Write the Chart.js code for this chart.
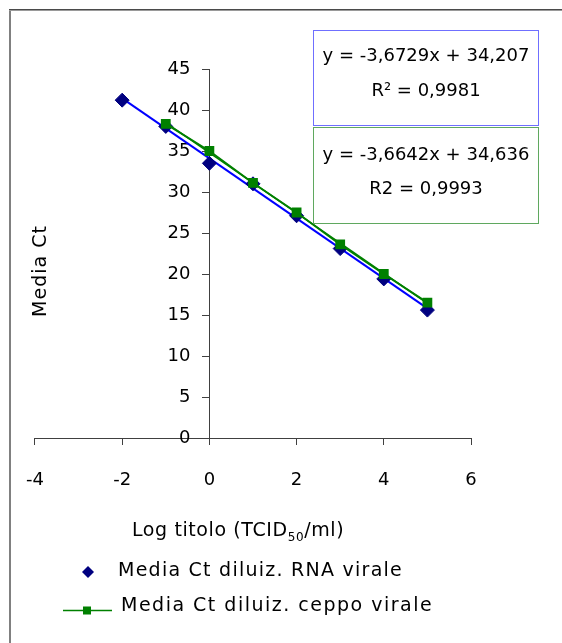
<!DOCTYPE html>
<html><head><meta charset="utf-8">
<script src="https://cdn.jsdelivr.net/npm/chart.js@4.4.1/dist/chart.umd.min.js"></script>
<style>html,body{margin:0;padding:0;background:#fff;} #wrap{width:562px;height:643px;position:relative;}</style>
</head><body><div id="wrap"><canvas id="c" width="562" height="643"></canvas></div>
<script>
// ---- data ----
const logTitreRNA = [-2, -1, 0, 1, 2, 3, 4, 5];
const ctRNA = [41.2, 38.0, 33.5, 31.0, 27.1, 23.1, 19.4, 15.6];
const logTitreCeppo = [-1, 0, 1, 2, 3, 4, 5];
const ctCeppo = [38.3, 35.0, 31.1, 27.5, 23.6, 20.0, 16.5];
const seriesNames = ['Media Ct diluiz. RNA virale', 'Media Ct diluiz. ceppo virale'];
const eqRNA = ['y = -3,6729x + 34,207', 'R² = 0,9981'];
const eqCeppo = ['y = -3,6642x + 34,636', 'R2 = 0,9993'];
const xTicks = [-4, -2, 0, 2, 4, 6];
const yTicks = [0, 5, 10, 15, 20, 25, 30, 35, 40, 45];
const xTitle = ['Log titolo (TCID', '50', '/ml)'];
const yTitle = 'Media Ct';

// least-squares trendline from the data
function trend(xs, ys) {
  const n = xs.length;
  const mx = xs.reduce((a, b) => a + b, 0) / n;
  const my = ys.reduce((a, b) => a + b, 0) / n;
  let sxy = 0, sxx = 0;
  for (let i = 0; i < n; i++) { sxy += (xs[i] - mx) * (ys[i] - my); sxx += (xs[i] - mx) ** 2; }
  const m = sxy / sxx, b = my - m * mx;
  const x0 = Math.min(...xs), x1 = Math.max(...xs);
  return [{x: x0, y: m * x0 + b}, {x: x1, y: m * x1 + b}];
}
const pts = (xs, ys) => xs.map((x, i) => ({x, y: ys[i]}));

const FONT = 'DejaVu Sans';
const NAVY = '#000080', BLUE = '#0000ff', GREEN = '#008000';
const Y_LABEL_GAP = 19;

const overlay = {
  id: 'overlay',
  beforeDraw(chart) {
    // y axis sits at x = 0: move its labels left of the tick marks
    const ys = chart.scales.y;
    const items = ys.getLabelItems(chart.chartArea);
    if (!items._shifted) {
      items.forEach(it => { it.options.translation[0] -= Y_LABEL_GAP; });
      items._shifted = true;
    }
  },
  afterDraw(chart) {
    const ctx = chart.ctx;
    ctx.save();
    // outer frame
    ctx.fillStyle = '#808080';
    ctx.fillRect(9, 9, 2, 643);
    ctx.fillStyle = '#4a4a4a';
    ctx.fillRect(9, 9, 562, 1);
    ctx.fillStyle = '#9a9a9a';
    ctx.fillRect(9, 10, 562, 1);
    // equation boxes
    ctx.lineWidth = 1;
    ctx.strokeStyle = '#6f6fff';
    ctx.strokeRect(313.5, 30.5, 225, 95);
    ctx.strokeStyle = '#5fa85f';
    ctx.strokeRect(313.5, 127.5, 225, 96);
    ctx.fillStyle = '#000';
    ctx.textAlign = 'center';
    ctx.textBaseline = 'middle';
    ctx.font = '18px "' + FONT + '"';
    ctx.fillText(eqRNA[0], 426, 56);
    ctx.fillText(eqRNA[1], 426, 91);
    ctx.fillText(eqCeppo[0], 426, 155);
    ctx.fillText(eqCeppo[1], 426, 189);
    // y title
    ctx.save();
    ctx.translate(41, 271);
    ctx.rotate(-Math.PI / 2);
    ctx.font = '19px "' + FONT + '"';
    ctx.letterSpacing = '1px';
    ctx.fillText(yTitle, 0, 0);
    ctx.restore();
    // x title with subscript
    ctx.textAlign = 'left';
    ctx.textBaseline = 'alphabetic';
    ctx.letterSpacing = '0.6px';
    let x = 132;
    const base = 536;
    ctx.font = '19px "' + FONT + '"';
    ctx.fillText(xTitle[0], x, base); x += ctx.measureText(xTitle[0]).width;
    ctx.font = '12px "' + FONT + '"';
    ctx.fillText(xTitle[1], x, base + 5); x += ctx.measureText(xTitle[1]).width;
    ctx.font = '19px "' + FONT + '"';
    ctx.fillText(xTitle[2], x, base);
    // legend
    ctx.textBaseline = 'middle';
    ctx.font = '19px "' + FONT + '"';
    ctx.fillStyle = NAVY;
    ctx.beginPath();
    ctx.moveTo(88, 566); ctx.lineTo(94, 572); ctx.lineTo(88, 578); ctx.lineTo(82, 572); ctx.closePath();
    ctx.fill();
    ctx.fillStyle = '#000';
    ctx.letterSpacing = '1.25px';
    ctx.fillText(seriesNames[0], 118, 571);
    ctx.strokeStyle = GREEN; ctx.lineWidth = 1.5;
    ctx.beginPath(); ctx.moveTo(63, 610.5); ctx.lineTo(112, 610.5); ctx.stroke();
    ctx.fillStyle = GREEN;
    ctx.fillRect(83, 606.5, 8, 8);
    ctx.fillStyle = '#000';
    ctx.letterSpacing = '1.5px';
    ctx.fillText(seriesNames[1], 121, 606);
    ctx.restore();
  }
};

new Chart(document.getElementById('c'), {
  type: 'scatter',
  data: {
    datasets: [
      {label: seriesNames[1], data: pts(logTitreCeppo, ctCeppo), showLine: true, borderColor: GREEN, backgroundColor: GREEN,
       borderWidth: 2, pointStyle: 'rect', pointRadius: 5.5, pointHoverRadius: 5.5},
      {label: 'trend ceppo', data: trend(logTitreCeppo, ctCeppo), showLine: true, borderColor: GREEN, borderWidth: 1.5, pointRadius: 0},
      {label: seriesNames[0], data: pts(logTitreRNA, ctRNA), showLine: false, borderColor: NAVY, backgroundColor: NAVY,
       pointStyle: 'rectRot', pointRadius: 7, pointHoverRadius: 7},
      {label: 'trend RNA', data: trend(logTitreRNA, ctRNA), showLine: true, borderColor: BLUE, borderWidth: 2, pointRadius: 0}
    ]
  },
  options: {
    responsive: false,
    animation: false,
    events: [],
    layout: {padding: {left: 34, right: 91, top: 69, bottom: 205}},
    plugins: {legend: {display: false}, tooltip: {enabled: false}, title: {display: false}},
    scales: {
      x: {
        type: 'linear', min: -4, max: 6, position: {y: 0},
        afterBuildTicks: s => { s.ticks = xTicks.map(v => ({value: v})); },
        ticks: {font: {family: FONT, size: 18}, color: '#000', padding: 26, maxRotation: 0},
        grid: {drawOnChartArea: false, drawTicks: true, tickLength: 6, color: '#404040'},
        border: {display: true, color: '#404040', width: 1}
      },
      y: {
        type: 'linear', min: 0, max: 45, position: {x: 0},
        afterBuildTicks: s => { s.ticks = yTicks.map(v => ({value: v})); },
        ticks: {font: {family: FONT, size: 18}, color: '#000', padding: 12},
        grid: {drawOnChartArea: false, drawTicks: true, tickLength: 7, color: '#404040'},
        border: {display: true, color: '#404040', width: 1}
      }
    }
  },
  plugins: [overlay]
});
</script>
</body></html>
